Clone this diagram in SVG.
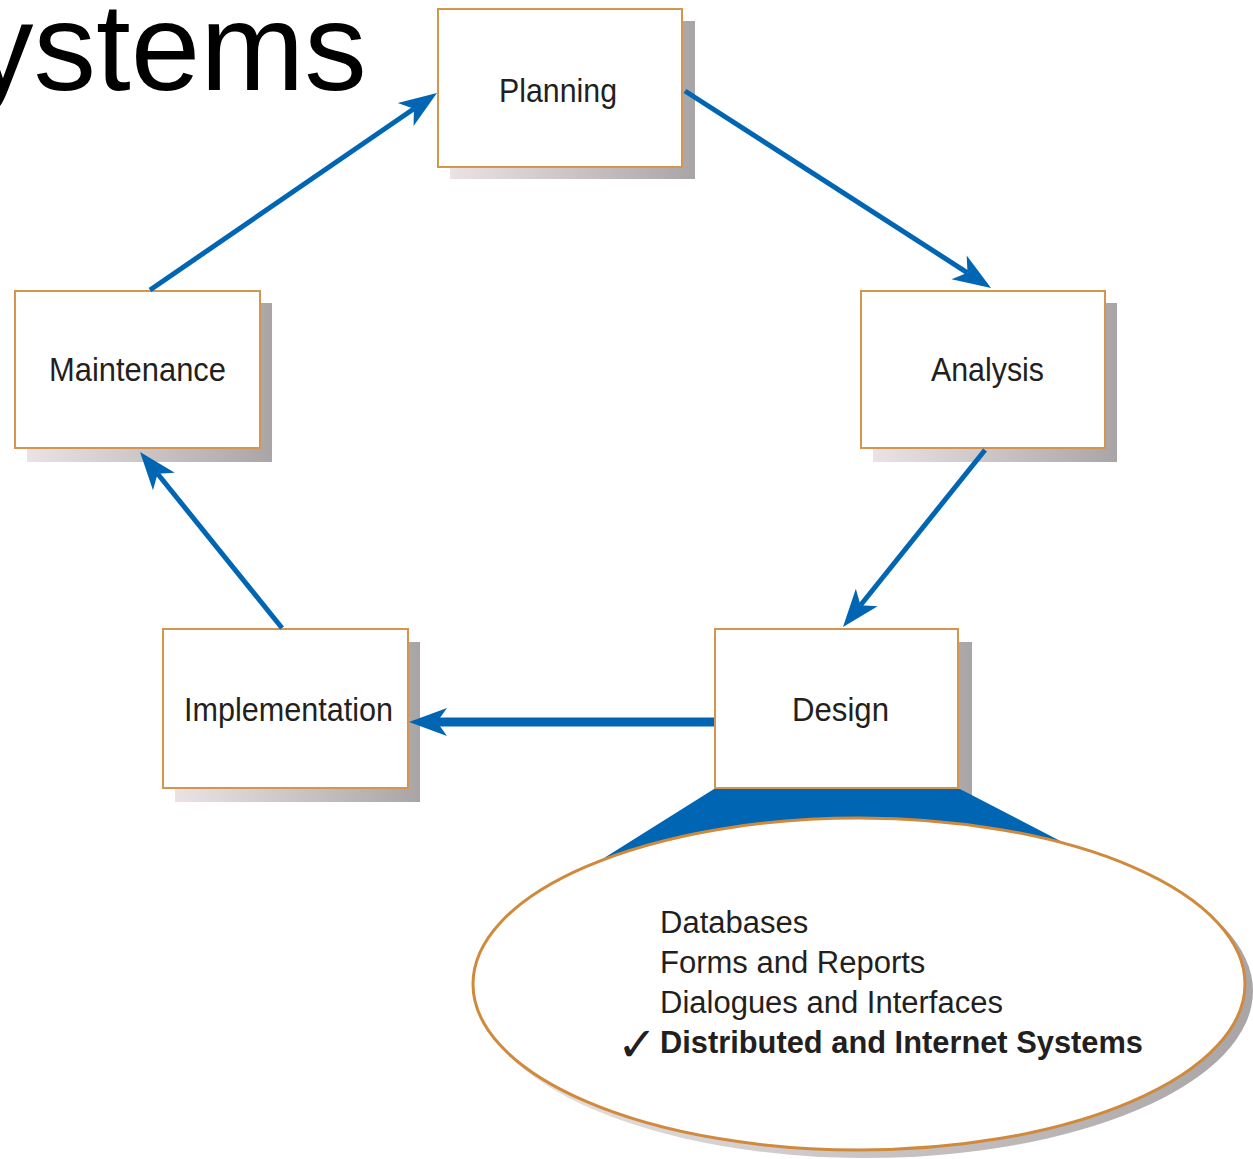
<svg xmlns="http://www.w3.org/2000/svg" width="1253" height="1159" viewBox="0 0 1253 1159">
<style>
.box{fill:#ffffff;stroke:#d6954f;stroke-width:2}
.lbl{font-family:"Liberation Sans",Arial,sans-serif;font-size:33px;fill:#231f20;text-anchor:middle}
.item{font-family:"Liberation Sans",Arial,sans-serif;font-size:31px;fill:#231f20}
.conn{stroke:#0066b3;stroke-width:5;fill:none;marker-end:url(#ah)}
</style>
<defs>
<linearGradient id="sh" x1="0" y1="0" x2="1" y2="0">
<stop offset="0" stop-color="#ebe3e3"/>
<stop offset="1" stop-color="#a9a5a6"/>
</linearGradient>
<marker id="ah" markerUnits="userSpaceOnUse" viewBox="-12 -16 42 32" refX="0" refY="0" markerWidth="42" markerHeight="32" orient="auto">
<path d="M28,0 L-10,-14 L0,0 L-10,14 Z" fill="#0066b3"/>
</marker>
</defs>
<rect width="1253" height="1159" fill="#ffffff"/>
<text x="-29" y="90" font-family="'Liberation Sans',Arial,sans-serif" font-size="125" fill="#000000">ystems</text>

<g id="planning">
<rect x="450" y="21" width="245" height="158" fill="url(#sh)"/>
<rect class="box" x="438" y="9" width="244" height="158"/>
<text class="lbl" x="558" y="102" textLength="118" lengthAdjust="spacingAndGlyphs">Planning</text>
</g>
<g id="analysis">
<rect x="873" y="303" width="244" height="159" fill="url(#sh)"/>
<rect class="box" x="861" y="291" width="244" height="157"/>
<text class="lbl" x="987.5" y="381" textLength="113" lengthAdjust="spacingAndGlyphs">Analysis</text>
</g>
<g id="maintenance">
<rect x="27" y="303" width="245" height="159" fill="url(#sh)"/>
<rect class="box" x="15" y="291" width="245" height="157"/>
<text class="lbl" x="137.5" y="381" textLength="177" lengthAdjust="spacingAndGlyphs">Maintenance</text>
</g>
<g id="implementation">
<rect x="175" y="642" width="245" height="160" fill="url(#sh)"/>
<rect class="box" x="163" y="629" width="245" height="159"/>
<text class="lbl" x="288.5" y="721" textLength="209" lengthAdjust="spacingAndGlyphs">Implementation</text>
</g>
<g id="design">
<rect x="727" y="642" width="245" height="160" fill="url(#sh)"/>
<rect class="box" x="715" y="629" width="243" height="159"/>
<text class="lbl" x="840.5" y="721" textLength="97" lengthAdjust="spacingAndGlyphs">Design</text>
</g>

<g id="design-detail">
<ellipse cx="866" cy="991" rx="387" ry="167" fill="url(#sh)"/>
<polygon points="714,789 960,789 1068,845 860,818 604,858" fill="#0066b3"/>
<ellipse cx="859" cy="984" rx="386" ry="166" fill="#ffffff" stroke="#d08a3c" stroke-width="3"/>
<text class="item" x="660" y="933">Databases</text>
<text class="item" x="660" y="973">Forms and Reports</text>
<text class="item" x="660" y="1013">Dialogues and Interfaces</text>
<text class="item" x="660" y="1053" font-weight="bold" textLength="483" lengthAdjust="spacingAndGlyphs">Distributed and Internet Systems</text>
<text x="617" y="1061" font-family="'DejaVu Sans',sans-serif" font-weight="bold" font-size="48" fill="#231f20">✓</text>
</g>

<g id="connectors">
<line class="conn" x1="150" y1="290" x2="413.9" y2="108.8"/>
<line class="conn" x1="685" y1="91" x2="967.5" y2="272.8"/>
<line class="conn" x1="985" y1="450" x2="860.5" y2="605.2"/>
<line class="conn" x1="282" y1="628" x2="157.6" y2="473.8"/>
<line class="conn" x1="714" y1="722" x2="437" y2="722" style="stroke-width:9"/>
</g>
</svg>
